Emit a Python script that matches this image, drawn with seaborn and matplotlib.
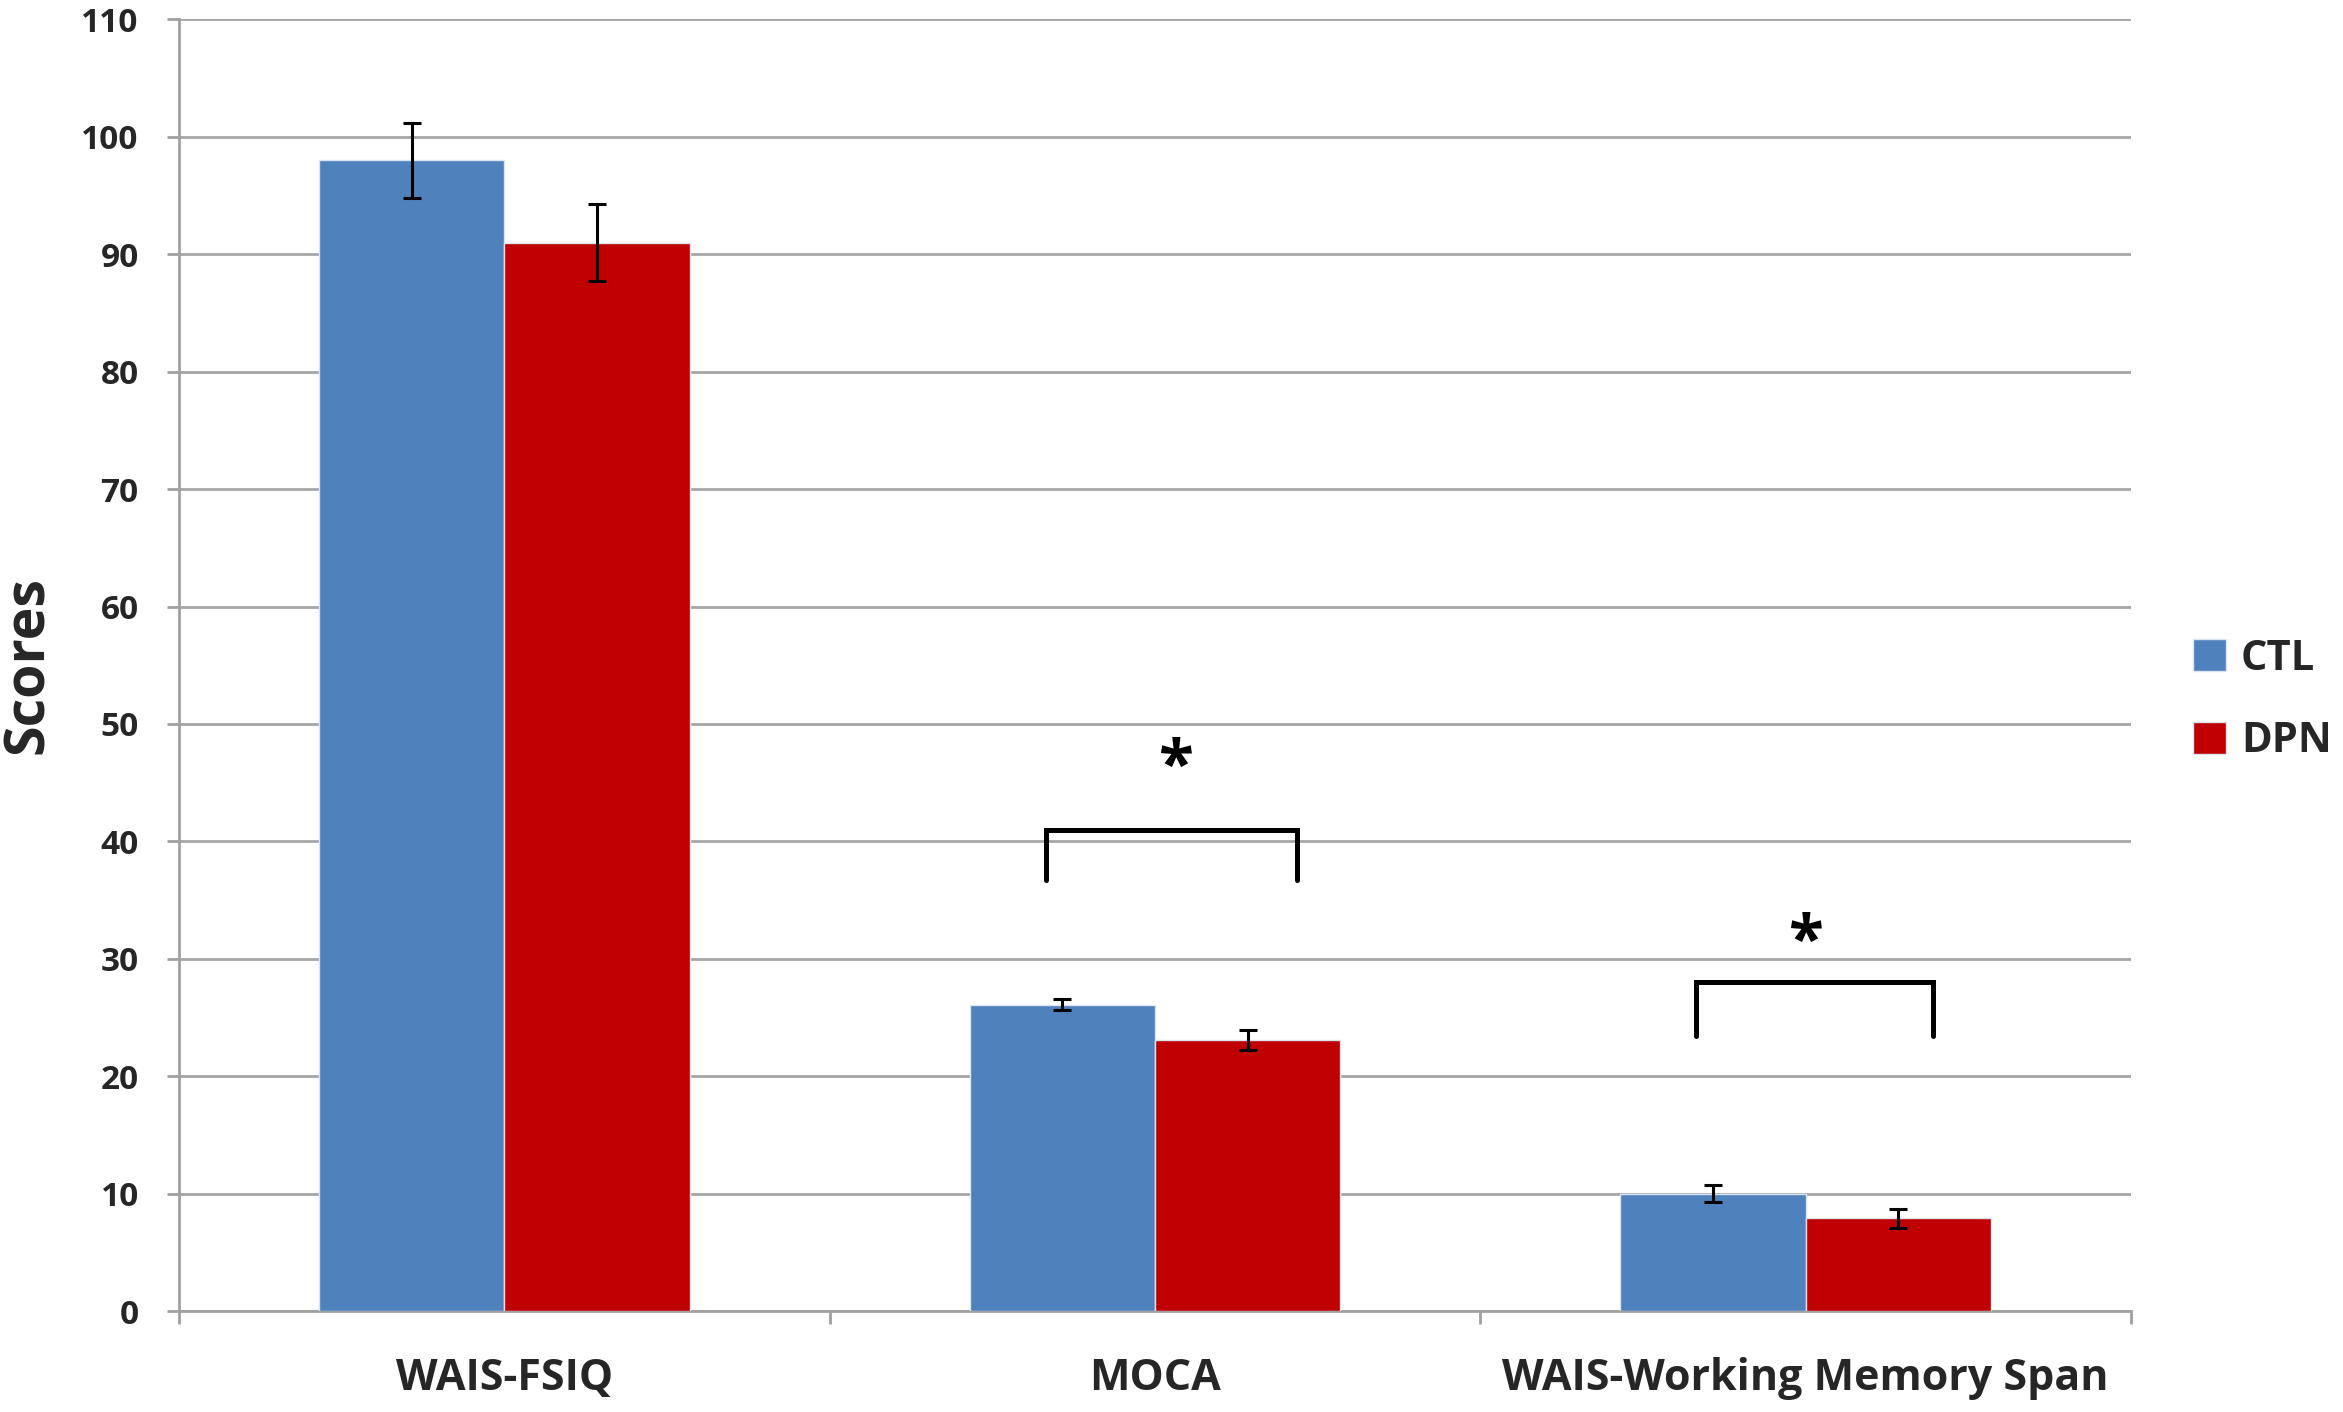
import numpy as np
import pandas as pd
import matplotlib
matplotlib.use("Agg")
import matplotlib.pyplot as plt
import seaborn as sns

# --- data ---
categories = ["WAIS-FSIQ", "MOCA", "WAIS-Working Memory Span"]
groups = ["CTL", "DPN"]
ctl_scores = [98.0, 26.1, 10.0]
dpn_scores = [91.0, 23.1, 7.9]
ctl_err = [3.2, 0.45, 0.7]
dpn_err = [3.3, 0.85, 0.8]
y_ticks = list(range(0, 111, 10))

# significance marks: category, bracket top, leg bottom, star height
sig_cats = ["MOCA", "WAIS-Working Memory Span"]
sig_top = [41.0, 28.0]
sig_leg = [36.7, 23.4]
sig_star = [46.1, 31.2]

df = pd.DataFrame({
    "Test": categories * 2,
    "Group": [groups[0]] * 3 + [groups[1]] * 3,
    "Score": ctl_scores + dpn_scores,
})

sns.set_style("white")
plt.rcParams["font.family"] = ["Open Sans", "DejaVu Sans"]
plt.rcParams["font.weight"] = "bold"

fig = plt.figure(figsize=(23.43, 14.12), dpi=100)
ax = fig.add_axes([0.0764, 0.0715, 0.9095 - 0.0764, 0.9862 - 0.0715])

palette = {"CTL": "#4F81BD", "DPN": "#C00000"}
sns.barplot(data=df, x="Test", y="Score", hue="Group", order=categories,
            hue_order=groups, palette=palette, width=0.57, errorbar=None,
            saturation=1, edgecolor="#dbe5f1", linewidth=1.0, ax=ax, zorder=3)

# error bars placed on the bar centres
for cont, errs in zip(ax.containers, [ctl_err, dpn_err]):
    for bar, e in zip(cont, errs):
        xc = bar.get_x() + bar.get_width() / 2
        ax.errorbar(xc, bar.get_height(), yerr=e, fmt="none", ecolor="black",
                    elinewidth=2.2, capsize=6.5, capthick=2.2, zorder=4)

# brackets with stars
for cat, top, leg, star in zip(sig_cats, sig_top, sig_leg, sig_star):
    i = categories.index(cat)
    if i == 1:
        x0, x1, xs = i - 0.168, i + 0.218, i + 0.032
    else:
        x0, x1, xs = i - 0.169, i + 0.196, i
    ax.plot([x0, x0, x1, x1], [leg, top, top, leg], color="black", lw=3.6,
            solid_joinstyle="miter", zorder=5)
    ax.text(xs, star, "*", ha="center", va="center", fontsize=46,
            fontweight="bold", color="black")

ax.set_ylim(0, 110)
ax.set_xlim(-0.5, 2.5)
ax.set_yticks(y_ticks)
ax.yaxis.grid(True, color="#a6a6a6", lw=2)
ax.set_axisbelow(True)

for s in ["top", "right"]:
    ax.spines[s].set_visible(False)
for s in ["left", "bottom"]:
    ax.spines[s].set_color("#a0a0a0")
    ax.spines[s].set_linewidth(2)

ax.tick_params(axis="y", direction="out", length=9, width=2, color="#a0a0a0",
               labelsize=24, pad=20, left=True)
ax.tick_params(axis="x", which="major", length=0, labelsize=31, pad=33)
ax.set_xticks(np.arange(-0.5, 2.6, 1.0), minor=True)
ax.tick_params(axis="x", which="minor", direction="out", length=9, width=2,
               color="#a0a0a0", bottom=True)
for lab in ax.get_xticklabels() + ax.get_yticklabels():
    lab.set_fontweight("bold")

ax.set_xlabel("")
ax.set_ylabel("Scores", fontsize=40, fontweight="bold", va="center")
ax.yaxis.set_label_coords(-0.077, 0.5)

ax.legend(loc="center left", bbox_to_anchor=(0.936, 0.504),
          bbox_transform=fig.transFigure, frameon=False,
          handlelength=0.8, handleheight=0.8, handletextpad=0.35,
          labelspacing=1.0, borderpad=0, borderaxespad=0,
          prop={"size": 30, "weight": "bold"})

fig.savefig("out.png", dpi=100)
